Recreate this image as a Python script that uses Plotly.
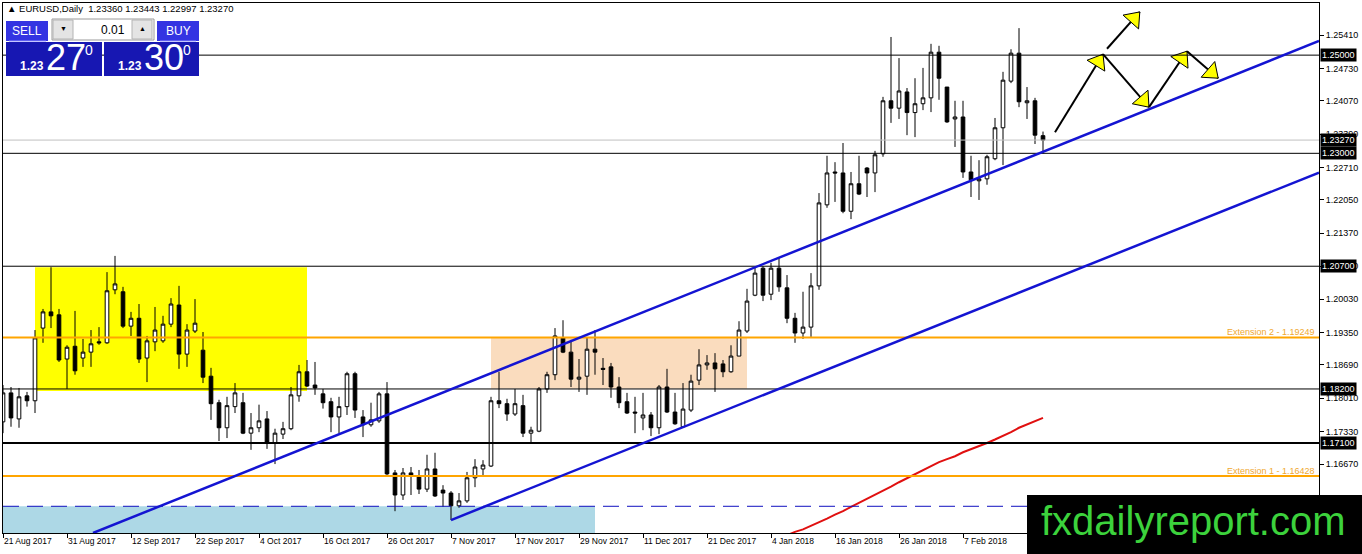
import math
import pandas as pd
import plotly.graph_objects as go

# ---- data --------------------------------------------------------------
symbol = "EURUSD,Daily"
first_day, last_day = "2017-08-21", "2018-02-21"
closed_days = ["2017-12-25", "2018-01-01"]
dates = [d for d in pd.bdate_range(first_day, last_day)
         if d.strftime("%Y-%m-%d") not in closed_days]

open_ = [
    1.1753, 1.1812, 1.1759, 1.1806, 1.1796, 1.1944, 1.1977, 1.1971, 1.1881, 1.1907,
    1.1883, 1.1895, 1.1916, 1.1914, 1.2022, 1.2018, 1.1948, 1.1964, 1.1883, 1.1916,
    1.1918, 1.1952, 1.1991, 1.1891, 1.1938, 1.1899, 1.1846, 1.1792, 1.1741, 1.1784,
    1.1792, 1.1730, 1.1741, 1.1759, 1.1710, 1.1728, 1.1739, 1.1806, 1.1855, 1.1828,
    1.1810, 1.1794, 1.1763, 1.1784, 1.1851, 1.1763, 1.1747, 1.1755, 1.1810, 1.1649,
    1.1604, 1.1649, 1.1643, 1.1616, 1.1657, 1.1614, 1.1608, 1.1582, 1.1592, 1.1639,
    1.1657, 1.1663, 1.1796, 1.1790, 1.1769, 1.1786, 1.1730, 1.1734, 1.1820, 1.1849,
    1.1924, 1.1895, 1.1840, 1.1846, 1.1901, 1.1862, 1.1865, 1.1824, 1.1794, 1.1773,
    1.1761, 1.1767, 1.1741, 1.1824, 1.1773, 1.1743, 1.1777, 1.1838, 1.1869, 1.1873,
    1.1871, 1.1855, 1.1887, 1.1938, 1.2011, 1.2066, 1.2013, 1.2066, 1.2026, 1.1964,
    1.1934, 1.1946, 1.2030, 1.2195, 1.2262, 1.2260, 1.2182, 1.2238, 1.2270, 1.2260,
    1.2299, 1.2407, 1.2392, 1.2425, 1.2383, 1.2401, 1.2413, 1.2506, 1.2435, 1.2370,
    1.2374, 1.2262, 1.2244, 1.2248, 1.2289, 1.2352, 1.2447, 1.2504, 1.2403, 1.2407,
    1.23360]
high = [
    1.1828, 1.1824, 1.1822, 1.1814, 1.1940, 1.1983, 1.2068, 1.1983, 1.1909, 1.1979,
    1.1922, 1.1940, 1.1946, 1.2058, 1.2091, 1.2028, 1.1977, 1.1993, 1.1928, 1.1987,
    1.1969, 1.2005, 1.2030, 1.1952, 1.2003, 1.1936, 1.1863, 1.1798, 1.1804, 1.1832,
    1.1812, 1.1771, 1.1788, 1.1775, 1.1739, 1.1753, 1.1824, 1.1869, 1.1879, 1.1875,
    1.1820, 1.1802, 1.1804, 1.1855, 1.1855, 1.1777, 1.1792, 1.1814, 1.1834, 1.1655,
    1.1659, 1.1661, 1.1655, 1.1686, 1.1690, 1.1624, 1.1612, 1.1608, 1.1651, 1.1677,
    1.1675, 1.1804, 1.1855, 1.1800, 1.1820, 1.1808, 1.1743, 1.1824, 1.1855, 1.1944,
    1.1960, 1.1920, 1.1881, 1.1926, 1.1940, 1.1883, 1.1873, 1.1844, 1.1812, 1.1804,
    1.1812, 1.1773, 1.1828, 1.1861, 1.1812, 1.1832, 1.1849, 1.1901, 1.1889, 1.1893,
    1.1879, 1.1909, 1.1958, 1.2024, 1.2068, 1.2070, 1.2077, 1.2087, 1.2052, 1.1975,
    1.2018, 1.2056, 1.2219, 1.2295, 1.2282, 1.2321, 1.2262, 1.2295, 1.2272, 1.2305,
    1.2415, 1.2537, 1.2494, 1.2433, 1.2453, 1.2474, 1.2523, 1.2519, 1.2435, 1.2407,
    1.2407, 1.2295, 1.2286, 1.2297, 1.2372, 1.2466, 1.2512, 1.2555, 1.2435, 1.2413,
    1.23443]
low = [
    1.1730, 1.1743, 1.1741, 1.1784, 1.1771, 1.1914, 1.1944, 1.1875, 1.1820, 1.1849,
    1.1865, 1.1865, 1.1910, 1.1912, 1.2013, 1.1944, 1.1928, 1.1873, 1.1834, 1.1897,
    1.1914, 1.1946, 1.1861, 1.1865, 1.1934, 1.1832, 1.1757, 1.1714, 1.1720, 1.1771,
    1.1728, 1.1696, 1.1732, 1.1698, 1.1667, 1.1718, 1.1736, 1.1794, 1.1824, 1.1808,
    1.1780, 1.1732, 1.1730, 1.1767, 1.1761, 1.1722, 1.1743, 1.1751, 1.1641, 1.1571,
    1.1594, 1.1604, 1.1606, 1.1610, 1.1600, 1.1580, 1.1553, 1.1578, 1.1588, 1.1620,
    1.1641, 1.1661, 1.1781, 1.1755, 1.1765, 1.1722, 1.1710, 1.1732, 1.1812, 1.1838,
    1.1893, 1.1824, 1.1814, 1.1808, 1.1849, 1.1828, 1.1802, 1.1781, 1.1769, 1.1730,
    1.1736, 1.1724, 1.1728, 1.1771, 1.1747, 1.1743, 1.1773, 1.1828, 1.1859, 1.1814,
    1.1844, 1.1853, 1.1887, 1.1934, 1.2009, 1.1999, 1.2001, 1.2018, 1.1954, 1.1914,
    1.1922, 1.1926, 1.2022, 1.2189, 1.2201, 1.2178, 1.2166, 1.2215, 1.2211, 1.2221,
    1.2293, 1.2362, 1.2370, 1.2337, 1.2333, 1.2388, 1.2384, 1.2409, 1.2362, 1.2313,
    1.2250, 1.2211, 1.2205, 1.2236, 1.2286, 1.2276, 1.2443, 1.2394, 1.2370, 1.2319,
    1.22997]
close = [
    1.1812, 1.1761, 1.1804, 1.1796, 1.1924, 1.1977, 1.1969, 1.1879, 1.1905, 1.1857,
    1.1895, 1.1912, 1.1914, 1.2020, 1.2034, 1.1948, 1.1964, 1.1881, 1.1918, 1.1940,
    1.1952, 1.1993, 1.1891, 1.1940, 1.1954, 1.1844, 1.1790, 1.1741, 1.1786, 1.1812,
    1.1730, 1.1741, 1.1755, 1.1710, 1.1730, 1.1739, 1.1808, 1.1855, 1.1826, 1.1822,
    1.1792, 1.1763, 1.1784, 1.1851, 1.1777, 1.1747, 1.1757, 1.1810, 1.1647, 1.1604,
    1.1649, 1.1643, 1.1616, 1.1657, 1.1602, 1.1608, 1.1582, 1.1592, 1.1639, 1.1661,
    1.1665, 1.1796, 1.1790, 1.1769, 1.1790, 1.1730, 1.1736, 1.1820, 1.1849, 1.1928,
    1.1895, 1.1840, 1.1844, 1.1901, 1.1895, 1.1860, 1.1824, 1.1792, 1.1771, 1.1771,
    1.1767, 1.1741, 1.1824, 1.1773, 1.1749, 1.1779, 1.1836, 1.1869, 1.1873, 1.1861,
    1.1855, 1.1887, 1.1940, 1.1999, 1.2056, 1.2011, 1.2066, 1.2028, 1.1964, 1.1934,
    1.1946, 1.2030, 1.2199, 1.2260, 1.2260, 1.2182, 1.2238, 1.2217, 1.2260, 1.2297,
    1.2407, 1.2392, 1.2427, 1.2383, 1.2401, 1.2413, 1.2506, 1.2453, 1.2364, 1.2374,
    1.2262, 1.2246, 1.2248, 1.2293, 1.2352, 1.2449, 1.2504, 1.2405, 1.2407, 1.2337,
    1.23270]

# red moving average, visible from 2018-01-05 on
ma_first = "2018-01-05"
ma_values = [
    1.1515, 1.1522, 1.1529, 1.1534, 1.1541, 1.1549, 1.1556, 1.1564, 1.1571, 1.1580,
    1.1588, 1.1596, 1.1604, 1.1613, 1.1621, 1.1630, 1.1638, 1.1647, 1.1655, 1.1663,
    1.1671, 1.1677, 1.1683, 1.1691, 1.1697, 1.1703, 1.1710, 1.1717, 1.1724, 1.1732,
    1.1741, 1.1748, 1.1754, 1.1761]

x_tick_labels = ["21 Aug 2017", "31 Aug 2017", "12 Sep 2017", "22 Sep 2017",
                 "4 Oct 2017", "16 Oct 2017", "26 Oct 2017", "7 Nov 2017",
                 "17 Nov 2017", "29 Nov 2017", "11 Dec 2017", "21 Dec 2017",
                 "4 Jan 2018", "16 Jan 2018", "26 Jan 2018", "7 Feb 2018"]
y_ticks = [1.25410, 1.24730, 1.24070, 1.23390, 1.22710, 1.22050, 1.21370, 1.20700,
           1.20030, 1.19350, 1.18690, 1.18010, 1.17330, 1.16670, 1.15990]

bid, ask = 1.23270, 1.23300
black_levels = [1.25000, 1.23000, 1.20700, 1.18200]
key_level = 1.17100
ext_levels = [1.19249, 1.16428]
ext_names = ["Extension 2", "Extension 1"]
dashed_level = 1.1581
tag_levels = [1.25000, 1.23270, 1.23000, 1.20700, 1.18200, 1.17100]

# zones: (first bar, last bar, bottom, top)
yellow_zone = (4, 38, 1.1816, 1.2068)
peach_zone = (61, 93, 1.1821, 1.1925)
blue_zone = (-1, 74, 1.1500, 1.1581)

# channel lines: (bar, price) anchors
upper_channel = [(11.25, 1.15266), (164.5, 1.25288)]
lower_channel = [(56, 1.1553), (164.5, 1.22607)]

# projected path arrows
arrows = [
    [(131.5, 1.2343), (137.5, 1.2502)],
    [(138.0, 1.2513), (142.1, 1.2588)],
    [(137.5, 1.2502), (143.25, 1.2394)],
    [(143.25, 1.2394), (148.0, 1.2508)],
    [(148.0, 1.2508), (151.9, 1.2453)],
]

# ---- figure --------------------------------------------------------------
W, H = 1362, 554
L, R, T, B = 3, 43, 3, 21
x_range = [0, 164.5]
y_range = [1.15266, 1.26062]
plot_w, plot_h = W - L - R, H - T - B
sx = plot_w / (x_range[1] - x_range[0])
sy = plot_h / (y_range[1] - y_range[0])

bars = list(range(len(dates)))
day_index = {d.strftime("%Y-%m-%d"): i for i, d in enumerate(dates)}
tick_pos = [day_index[pd.Timestamp(t).strftime("%Y-%m-%d")] for t in x_tick_labels]
ma_start = day_index[ma_first]

BLUE = "#1414D2"
ORANGE = "#FFA500"
FONT = "Liberation Sans"

fig = go.Figure()
fig.add_trace(go.Candlestick(
    x=bars, open=open_, high=high, low=low, close=close,
    text=[d.strftime("%d %b %Y") for d in dates],
    increasing=dict(line=dict(color="black", width=1), fillcolor="white"),
    decreasing=dict(line=dict(color="black", width=1), fillcolor="black"),
    whiskerwidth=0, showlegend=False,
))
fig.add_trace(go.Scatter(
    x=bars[ma_start:], y=ma_values, mode="lines",
    line=dict(color="#E01010", width=2), showlegend=False, hoverinfo="skip",
))

shapes = []
for x0, x1, y0, y1, col in [(*yellow_zone, "#FFFF00"), (*peach_zone, "#FADCBE"),
                             (*blue_zone, "#ADD8E6")]:
    shapes.append(dict(type="rect", xref="x", yref="y", x0=x0, x1=x1, y0=y0, y1=y1,
                       fillcolor=col, line=dict(width=0), layer="below"))

for lv in black_levels:
    shapes.append(dict(type="line", xref="paper", yref="y", x0=0, x1=1, y0=lv, y1=lv,
                       line=dict(color="black", width=1)))
shapes.append(dict(type="line", xref="paper", yref="y", x0=0, x1=1, y0=key_level,
                   y1=key_level, line=dict(color="black", width=2)))
shapes.append(dict(type="line", xref="paper", yref="y", x0=0, x1=1, y0=bid, y1=bid,
                   line=dict(color="#C0C0C0", width=1)))
for lv in ext_levels:
    shapes.append(dict(type="line", xref="paper", yref="y", x0=0, x1=1, y0=lv, y1=lv,
                       line=dict(color=ORANGE, width=2)))
shapes.append(dict(type="line", xref="paper", yref="y", x0=0, x1=1, y0=dashed_level,
                   y1=dashed_level, line=dict(color="#1010C0", width=1, dash="16px,8px")))
for (ax0, ay0), (ax1, ay1) in [upper_channel, lower_channel]:
    shapes.append(dict(type="line", xref="x", yref="y", x0=ax0, y0=ay0, x1=ax1, y1=ay1,
                       line=dict(color=BLUE, width=2.5)))

# arrows: black segment + yellow head
for (ax0, ay0), (ax1, ay1) in arrows:
    fig.add_trace(go.Scatter(x=[ax0, ax1], y=[ay0, ay1], mode="lines",
                             line=dict(color="black", width=2),
                             showlegend=False, hoverinfo="skip"))
    dxp, dyp = (ax1 - ax0) * sx, (ay1 - ay0) * sy
    ln = math.hypot(dxp, dyp)
    back = 9
    hx = ax1 - back * dxp / ln / sx
    hy = ay1 - back * dyp / ln / sy
    fig.add_trace(go.Scatter(
        x=[hx], y=[hy], mode="markers",
        marker=dict(symbol="triangle-up", size=18, color="#FFFF00",
                    angle=math.degrees(math.atan2(dxp, dyp)),
                    line=dict(color="black", width=1)),
        showlegend=False, hoverinfo="skip"))


def px(x):
    return (x - L) / plot_w


def py(y):
    return (H - B - y) / plot_h


ann = []
# price tags on the right scale
for lv in tag_levels:
    ann.append(dict(x=1, xref="paper", y=lv, yref="y", xanchor="left", xshift=1,
                    text=f"{lv:.5f}", showarrow=False, bgcolor="black", borderpad=1,
                    font=dict(color="white", size=9, family=FONT)))
for lv, name in zip(ext_levels, ext_names):
    ann.append(dict(x=1, xref="paper", y=lv, yref="y", xanchor="right", yanchor="bottom",
                    xshift=-2, yshift=-2, text=f"{name} - {lv:.5f}", showarrow=False,
                    font=dict(color="#F0A830", size=9, family=FONT)))

# header
ann.append(dict(x=px(5), y=py(9), xref="paper", yref="paper", xanchor="left",
                yanchor="middle", showarrow=False,
                text=f"▲ {symbol}  {open_[-1]:.5f} {high[-1]:.5f} {low[-1]:.5f} {close[-1]:.5f}",
                font=dict(size=9.5, color="black", family=FONT)))

# one-click trade panel
panel = [
    (6, 48, 21, 41, "#3434E2", None),
    (157, 199, 21, 41, "#3434E2", None),
    (52, 154, 19, 40, "white", "#9A9A9A"),
    (53, 73, 20, 39, "#E4E4E4", "#B4B4B4"),
    (132, 152, 20, 39, "#E4E4E4", "#B4B4B4"),
    (6, 102, 42, 76, "#1717B2", None),
    (104, 199, 42, 76, "#1717B2", None),
]
for x0, x1, y0, y1, fill, edge in panel:
    shapes.append(dict(type="rect", xref="paper", yref="paper", x0=px(x0), x1=px(x1),
                       y0=py(y1), y1=py(y0), fillcolor=fill, layer="above",
                       line=dict(width=1 if edge else 0, color=edge or fill)))
for x0, x1 in [(9, 46), (160, 196)]:
    shapes.append(dict(type="line", xref="paper", yref="paper", x0=px(x0), x1=px(x1),
                       y0=py(41), y1=py(41), layer="above",
                       line=dict(color="#8C8CFF", width=1)))


def label(x, y, text, size, color="white", anchor="center", bold=False):
    ann.append(dict(x=px(x), y=py(y), xref="paper", yref="paper", xanchor=anchor,
                    yanchor="middle", showarrow=False,
                    text=f"<b>{text}</b>" if bold else text,
                    font=dict(size=size, color=color, family=FONT)))


label(27, 31, "SELL", 12)
label(178, 31, "BUY", 12)
label(63, 29, "▼", 7, "black")
label(142, 29, "▲", 7, "black")
label(127, 30, "0.01", 12, "black", "right")
for pr, x0 in [(bid, 6), (ask, 104)]:
    s = f"{pr:.5f}"
    label(x0 + 26, 66, s[:4], 12, bold=True)
    label(x0 + 60, 58, s[4:6], 36)
    label(x0 + 83, 50, s[6], 14)

# watermark
shapes.append(dict(type="rect", xref="paper", yref="paper", x0=px(1027), x1=px(1366),
                   y0=py(556), y1=py(495), fillcolor="black", line=dict(width=0),
                   layer="above"))
ann.append(dict(x=px(1193), y=py(521), xref="paper", yref="paper", xanchor="center",
                yanchor="middle", showarrow=False, text="fxdailyreport.com",
                font=dict(size=40, color="#3CD23C", family=FONT)))

fig.update_layout(
    width=W, height=H, margin=dict(l=L, r=R, t=T, b=B),
    paper_bgcolor="white", plot_bgcolor="white",
    font=dict(family=FONT, size=9, color="black"),
    shapes=shapes, annotations=ann, boxgap=0.35, showlegend=False,
    xaxis=dict(range=x_range, rangeslider=dict(visible=False), showgrid=False,
               zeroline=False, showline=True, linecolor="black", linewidth=1,
               mirror=True, ticks="outside", ticklen=4, tickcolor="black",
               tickvals=tick_pos, ticktext=x_tick_labels,
               ticklabelposition="outside right", tickfont=dict(size=8.5)),
    yaxis=dict(range=y_range, side="right", showgrid=False, zeroline=False,
               showline=True, linecolor="black", linewidth=1, mirror=True,
               ticks="outside", ticklen=4, tickcolor="black",
               tickvals=y_ticks, ticktext=[f"{v:.5f}" for v in y_ticks],
               tickfont=dict(size=9)),
)

# the page has a default 8px body margin; drop it so the figure fills the window
fig.write_html("out.html", config={"displayModeBar": False},
               post_script="document.body.style.margin='0';document.body.style.overflow='hidden';")
